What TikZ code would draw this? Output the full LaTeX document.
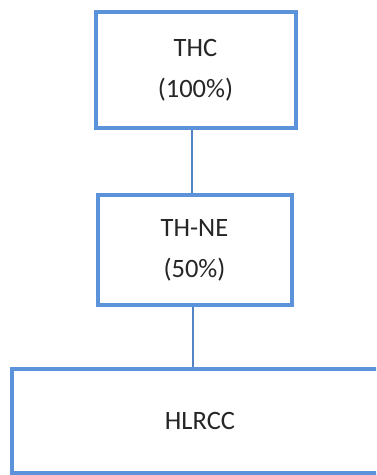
\documentclass[tikz,border=0pt]{standalone}
\usepackage{fontspec}
\setmainfont{Carlito}
\usepackage{xcolor}
\definecolor{boxblue}{RGB}{91,146,218}

\begin{document}
\begin{tikzpicture}[x=1pt,y=-1pt,
    orgbox/.style={rectangle,draw=boxblue,line width=4pt,fill=white,
      align=center,text=black!85,font=\fontsize{26.5}{41}\selectfont},
    link/.style={draw=boxblue!90!black,line width=1.3pt}]
    \useasboundingbox (0,0) rectangle (376,475);
    \clip (0,0) rectangle (376,475);

    % Holding company
    \node[orgbox,minimum width=200pt,minimum height=116pt] (thc) at (195.5,70) {THC\\(100\%)};

    % Joint venture
    \node[orgbox,minimum width=194pt,minimum height=110pt] (thne) at (194.5,250) {TH-NE\\(50\%)};

    % Subsidiary
    \node[orgbox,minimum width=376pt,minimum height=104pt] (hlrcc) at (200,421) {HLRCC};

    % Links
    \draw[link] (thc.south -| 192,0) -- (thne.north -| 192,0);
    \draw[link] (thne.south -| 193,0) -- (hlrcc.north -| 193,0);
\end{tikzpicture}
\end{document}
